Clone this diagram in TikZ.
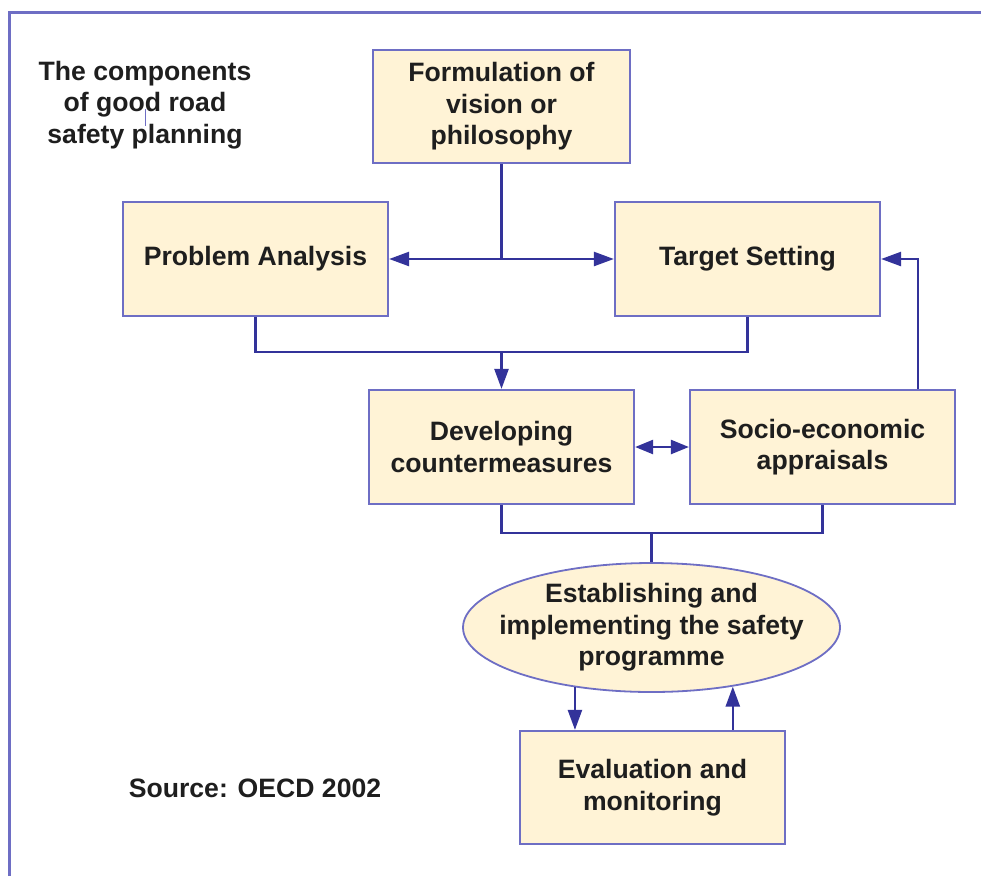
\documentclass[tikz,border=0pt]{standalone}
\usepackage{fontspec}
\setmainfont{Liberation Sans}
\usetikzlibrary{arrows.meta,shapes.geometric}
\definecolor{boxfill}{HTML}{FFF3D6}
\definecolor{boxline}{HTML}{6E6EC4}
\definecolor{connline}{HTML}{33339A}
\definecolor{txt}{HTML}{1E1E1E}
\begin{document}
\begin{tikzpicture}[x=1pt,y=-1pt,
  box/.style={draw=boxline,line width=2.2pt,fill=boxfill,inner sep=0pt,
    minimum width=265pt,minimum height=114pt,align=center,text=txt,
    font=\fontsize{26.6}{31.5}\selectfont\bfseries},
  ellbox/.style={ellipse,draw=boxline,line width=1.8pt,fill=boxfill,inner sep=0pt,
    minimum width=377pt,minimum height=129pt},
  lbl/.style={align=center,text=txt,inner sep=0pt,
    font=\fontsize{26.6}{31.5}\selectfont\bfseries},
  conn/.style={draw=connline,line width=2.4pt},
  tip/.style={-{Triangle[length=20pt,width=14pt]}},
  dtip/.style={{Triangle[length=18pt,width=14pt]}-{Triangle[length=18pt,width=14pt]}},
  frame/.style={draw=boxline,line width=3pt}
]
\useasboundingbox (0,0) rectangle (981,876);
\coordinate (fbl) at (9,876);
\coordinate (ftl) at (9,12);
\coordinate (ftr) at (981,12);
\draw[frame] (fbl) -- (ftl) -- (ftr);

\node[lbl] (title) at (145,105) {The components\\of good road\\safety planning};
\coordinate (ticka) at (145,109);
\coordinate (tickb) at (145,126);
\draw[draw=boxline,line width=1pt] (ticka) -- (tickb);
\node[lbl] (source) at (255,788) {Source: OECD 2002};

\node[box,minimum width=257pt,minimum height=113pt] (formulation) at (501.5,106.5) {Formulation of\\vision or\\philosophy};
\node[box] (problem) at (255.5,259) {Problem Analysis};
\node[box] (target) at (747.5,259) {Target Setting};
\node[box] (develop) at (501.5,447) {Developing\\countermeasures};
\node[box] (socio) at (822.5,447) {Socio-economic\\appraisals};
\node[ellbox] (establish) at (651.5,627.5) {};
\node[lbl] (establishtext) at (establish.center) {Establishing and\\implementing the safety\\programme};
\node[box,minimum height=113pt] (evaluation) at (652.5,787.5) {Evaluation and\\monitoring};

% formulation -> problem / target
\coordinate (j1) at (formulation.south |- problem.east);
\draw[conn] (formulation.south) -- (j1);
\draw[conn,tip] (j1) -- (problem.east);
\draw[conn,tip] (j1) -- (target.west);

% problem + target -> develop
\coordinate (j2) at (501.5,352);
\draw[conn] (problem.south) -- (problem.south |- j2) -- (target.south |- j2) -- (target.south);
\draw[conn,tip] (j2) -- (develop.north);

% develop <-> socio
\draw[conn,dtip] (develop.east) -- (socio.west);

% socio -> target
\coordinate (s1) at ([xshift=95.5pt]socio.north);
\draw[conn,tip] (s1) |- (target.east);

% develop + socio -> establish
\coordinate (j3) at (establish.north |- 0,533);
\draw[conn] (develop.south) -- (develop.south |- j3) -- (socio.south |- j3) -- (socio.south);
\draw[conn] (j3) -- (establish.north);

% establish <-> evaluation
\draw[conn,tip] (establish.218.5) -- (establish.218.5 |- evaluation.north);
\draw[conn,tip] (evaluation.north -| establish.324) -- (establish.324);
\end{tikzpicture}
\end{document}
